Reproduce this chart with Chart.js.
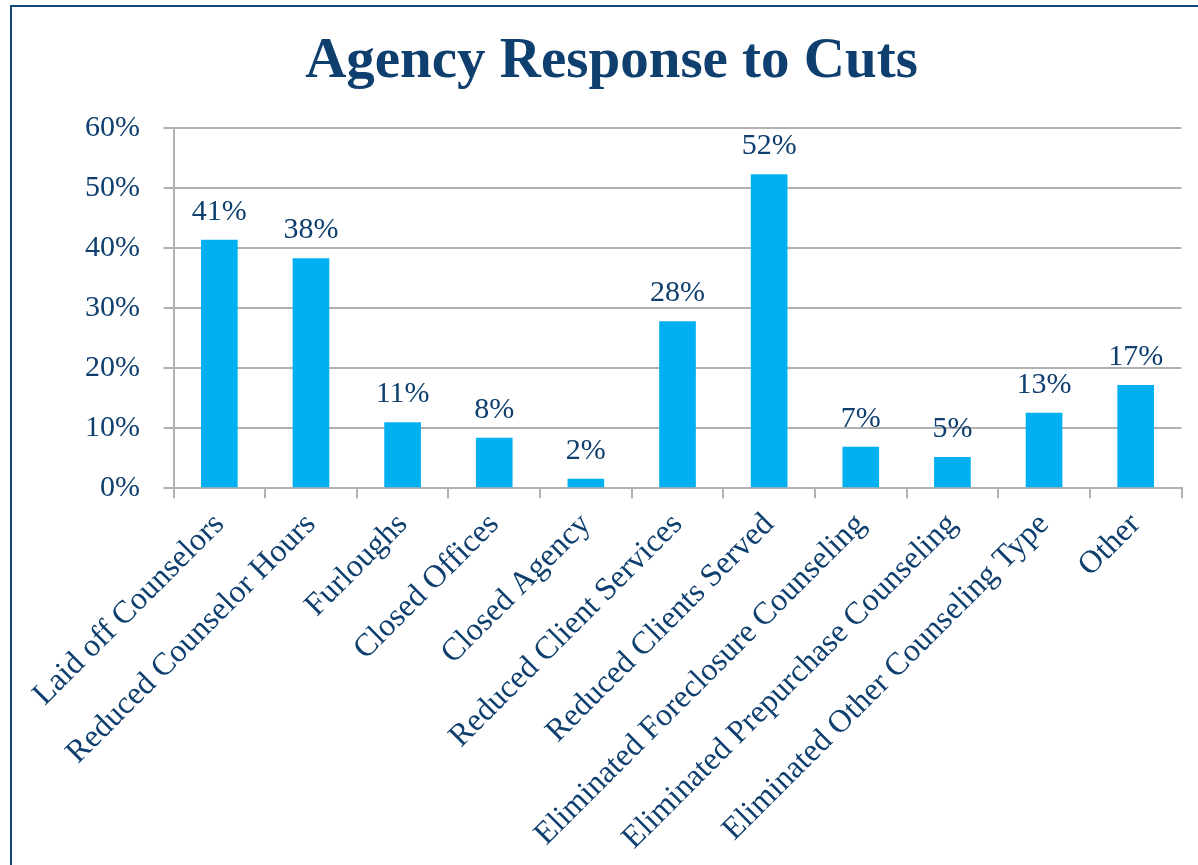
<!DOCTYPE html>
<html>
<head>
<meta charset="utf-8">
<script src="https://cdn.jsdelivr.net/npm/chart.js@4/dist/chart.umd.min.js"></script>
<style>
  html, body { margin: 0; padding: 0; background: #ffffff; }
  #wrap { position: relative; width: 1198px; height: 865px; overflow: hidden; }
  #frame { position: absolute; left: 10px; top: 5px; width: 1400px; height: 1000px;
           border-left: 2px solid #0f477a; border-top: 2px solid #0f477a; pointer-events: none; }
  canvas { position: absolute; left: 0; top: 0; }
</style>
</head>
<body>
<div id="wrap">
  <canvas id="c" width="1198" height="865"></canvas>
  <div id="frame"></div>
</div>
<script>
const categories = [
  "Laid off Counselors",
  "Reduced Counselor Hours",
  "Furloughs",
  "Closed Offices",
  "Closed Agency",
  "Reduced Client Services",
  "Reduced Clients Served",
  "Eliminated Foreclosure Counseling",
  "Eliminated Prepurchase Counseling",
  "Eliminated Other Counseling Type",
  "Other"
];
const responseShare = [41.4, 38.3, 11.0, 8.4, 1.6, 27.8, 52.3, 6.9, 5.2, 12.6, 17.2];
const yTickValues = [0, 10, 20, 30, 40, 50, 60];
const titleText = "Agency Response to Cuts";

const textColor = "#0e3f6e";
const gridColor = "#b1b1b1";
Chart.defaults.font.family = "'Liberation Serif', 'Times New Roman', serif";
Chart.defaults.color = textColor;

const dataLabels = {
  id: "dataLabels",
  afterDatasetsDraw(chart) {
    const ctx = chart.ctx;
    const meta = chart.getDatasetMeta(0);
    ctx.save();
    ctx.font = "30px 'Liberation Serif', serif";
    ctx.fillStyle = textColor;
    ctx.textAlign = "center";
    ctx.textBaseline = "alphabetic";
    meta.data.forEach((bar, i) => {
      const v = chart.data.datasets[0].data[i];
      ctx.fillText(Math.round(v) + "%", bar.x, bar.y - 20);
    });
    ctx.restore();
  }
};

new Chart(document.getElementById("c"), {
  type: "bar",
  data: {
    labels: categories,
    datasets: [{
      data: responseShare,
      backgroundColor: "#00b0f0",
      borderWidth: 0,
      barPercentage: 0.4,
      categoryPercentage: 1.0
    }]
  },
  options: {
    responsive: false,
    animation: false,
    devicePixelRatio: 1,
    layout: { padding: { left: 41.5, right: 16.5, top: 0, bottom: 0 } },
    plugins: {
      legend: { display: false },
      tooltip: { enabled: false },
      title: {
        display: true,
        text: titleText,
        color: textColor,
        font: { size: 57, weight: "bold", family: "'Liberation Serif', serif", lineHeight: 1.2 },
        padding: { top: 28, bottom: 31.6 }
      }
    },
    scales: {
      x: {
        offset: true,
        grid: { display: true, drawOnChartArea: false, drawTicks: true, tickLength: 10, color: gridColor, lineWidth: 2, offset: true },
        border: { display: true, color: gridColor, width: 2 },
        ticks: {
          autoSkip: false,
          maxRotation: 45,
          minRotation: 45,
          padding: 10,
          labelOffset: 0,
          color: textColor,
          font: { size: 32, lineHeight: 1 }
        },
        afterFit(scale) { scale.height = 865 - 488.3; }
      },
      y: {
        min: 0,
        max: 60,
        afterBuildTicks(scale) { scale.ticks = yTickValues.map(v => ({ value: v })); },
        grid: { color: gridColor, lineWidth: 2, tickLength: 10, drawTicks: true },
        border: { display: true, color: gridColor, width: 2 },
        ticks: {
          padding: 23.5,
          color: textColor,
          font: { size: 30 },
          callback: (v) => v + "%"
        },
        afterFit(scale) { scale.width = 173.5 - 41.5; }
      }
    }
  },
  plugins: [dataLabels]
});
</script>
</body>
</html>
